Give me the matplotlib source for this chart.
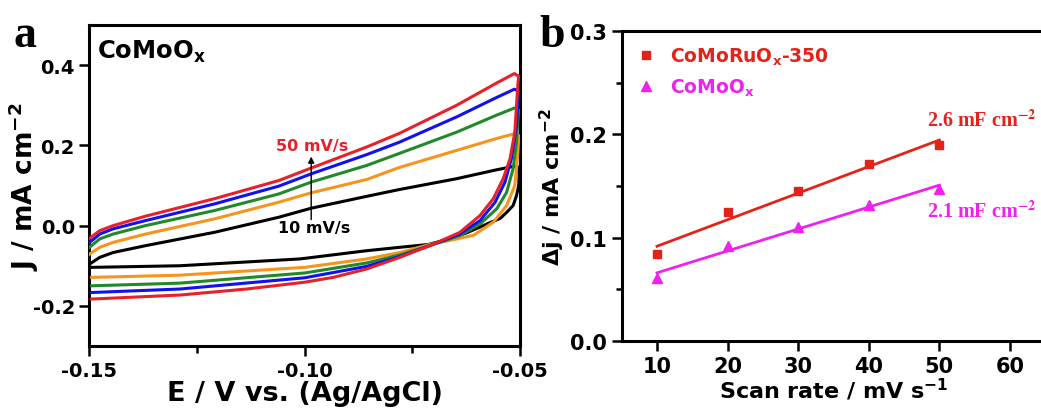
import matplotlib
matplotlib.use("Agg")
import matplotlib.pyplot as plt
import numpy as np
from matplotlib.lines import Line2D
from matplotlib.ticker import MultipleLocator

plt.rcParams['font.family'] = ['DejaVu Sans']
plt.rcParams['font.weight'] = 'bold'
plt.rcParams['axes.unicode_minus'] = False
plt.rcParams['mathtext.fontset'] = 'custom'
plt.rcParams['mathtext.rm'] = 'DejaVu Sans:bold'
plt.rcParams['mathtext.bf'] = 'DejaVu Sans:bold'

# ---------------- Panel a data (CV curves of CoMoOx) ----------------
E_fwd = [-0.150, -0.1476, -0.1445, -0.137, -0.121, -0.106, -0.0985, -0.0856, -0.078, -0.0647, -0.0555, -0.0513]

J50_fwd = [-0.0315, -0.0125, 0.0, 0.0235, 0.067, 0.1125, 0.1435, 0.196, 0.23, 0.30, 0.355, 0.379]
E50_rev = [-0.0503, -0.0505, -0.0507, -0.0512, -0.0523, -0.0539, -0.0562, -0.0593, -0.064, -0.0705, -0.0779, -0.0856, -0.0934, -0.1000, -0.1135, -0.129, -0.1495]
J50_rev = [0.372, 0.35, 0.317, 0.233, 0.167, 0.117, 0.067, 0.025, -0.017, -0.048, -0.079, -0.108, -0.129, -0.141, -0.158, -0.173, -0.183]

J40_fwd = [-0.042, -0.021, -0.008, 0.0125, 0.054, 0.0985, 0.129, 0.177, 0.208, 0.271, 0.319, 0.340]
E40_rev = [-0.0503, -0.0505, -0.0508, -0.052, -0.0535, -0.0558, -0.0593, -0.064, -0.0705, -0.0779, -0.0856, -0.100, -0.129, -0.1495]
J40_rev = [0.335, 0.31, 0.25, 0.167, 0.108, 0.058, 0.0125, -0.021, -0.048, -0.077, -0.1015, -0.130, -0.158, -0.1667]

J30_fwd = [-0.054, -0.033, -0.021, 0.0, 0.0375, 0.079, 0.1085, 0.15, 0.18, 0.233, 0.275, 0.293]
E30_rev = [-0.0503, -0.0505, -0.0508, -0.0516, -0.0531, -0.0554, -0.0593, -0.064, -0.0705, -0.0779, -0.0856, -0.100, -0.129, -0.1495]
J30_rev = [0.288, 0.26, 0.2085, 0.142, 0.083, 0.042, 0.004, -0.025, -0.048, -0.073, -0.093, -0.118, -0.1433, -0.150]

J20_fwd = [-0.071, -0.054, -0.0417, -0.021, 0.0167, 0.0585, 0.0818, 0.115, 0.145, 0.1875, 0.217, 0.229]
E20_rev = [-0.0503, -0.0504, -0.0506, -0.0512, -0.0531, -0.0562, -0.0608, -0.0663, -0.0710, -0.0779, -0.0856, -0.100, -0.129, -0.1495]
J20_rev = [0.225, 0.2, 0.167, 0.1, 0.05, 0.0085, -0.024, -0.037, -0.047, -0.067, -0.083, -0.104, -0.1235, -0.129]

J10_fwd = [-0.096, -0.079, -0.067, -0.05, -0.0167, 0.021, 0.0434, 0.073, 0.09, 0.117, 0.139, 0.148]
E10_rev = [-0.0503, -0.0502, -0.0503, -0.0508, -0.0516, -0.0531, -0.0546, -0.0577, -0.0624, -0.0663, -0.0713, -0.0779, -0.0856, -0.1011, -0.129, -0.1495]
J10_rev = [0.146, 0.125, 0.1, 0.075, 0.05, 0.033, 0.018, 0.004, -0.018, -0.033, -0.047, -0.054, -0.0625, -0.083, -0.100, -0.104]

cv_colors = {10: '#000000', 20: '#f7941d', 30: '#22892a', 40: '#1010f0', 50: '#e8202a'}

# ---------------- Panel b data ----------------
scan_rate = [10, 20, 30, 40, 50]
dj_CoMoRuOx = [0.0845, 0.125, 0.145, 0.171, 0.190]
dj_CoMoOx = [0.061, 0.092, 0.110, 0.132, 0.147]
red_b = '#e2231a'
mag_b = '#ee22ee'

fig = plt.figure(figsize=(10.41, 4.10), dpi=100)

# ---------------- Panel a ----------------
axa = fig.add_axes([0.08597, 0.15366, 0.41354, 0.78293])
curves = [
    (10, J10_fwd, E10_rev, J10_rev),
    (20, J20_fwd, E20_rev, J20_rev),
    (30, J30_fwd, E30_rev, J30_rev),
    (40, J40_fwd, E40_rev, J40_rev),
    (50, J50_fwd, E50_rev, J50_rev),
]
for rate, jf, er, jr in curves:
    E = list(E_fwd) + list(er)
    J = list(jf) + list(jr)
    axa.plot(E, J, color=cv_colors[rate], lw=2.2, solid_joinstyle='round', zorder=3 + rate / 10)

axa.set_xlim(-0.15, -0.05)
axa.set_ylim(-0.3, 0.5)
axa.set_xticks([-0.15, -0.10, -0.05])
axa.set_xticklabels(['-0.15', '-0.10', '-0.05'])
axa.xaxis.set_minor_locator(MultipleLocator(0.025))
axa.set_yticks([-0.2, 0.0, 0.2, 0.4])
axa.set_yticklabels(['-0.2', '0.0', '0.2', '0.4'])
axa.tick_params(axis='both', which='major', direction='out', length=7, width=1.8, labelsize=14)
axa.tick_params(axis='both', which='minor', direction='out', length=5, width=1.8)
for s in axa.spines.values():
    s.set_linewidth(2.2)
axa.set_xlabel('E / V vs. (Ag/AgCl)', fontsize=19.5, fontweight='bold', labelpad=0)
axa.set_ylabel(r'J / mA cm$^{\mathbf{-2}}$', fontsize=19, fontweight='bold')
axa.yaxis.set_label_coords(-0.112, 0.5)

axa.text(0.017, 0.897, r'CoMoO$_{\mathbf{x}}$', transform=axa.transAxes, fontsize=17.5,
         fontweight='bold', va='baseline', ha='left')
axa.annotate('', xy=(-0.0985, 0.172), xytext=(-0.0985, 0.015),
             arrowprops=dict(arrowstyle='-|>', color='black', lw=1.0, mutation_scale=9,
                             shrinkA=0, shrinkB=0), zorder=10)
axa.text(-0.0982, 0.200, '50 mV/s', color='#e8202a', fontsize=11.5, fontweight='bold',
         ha='center', va='center', zorder=11)
axa.text(-0.0978, -0.004, '10 mV/s', color='black', fontsize=11.5, fontweight='bold',
         ha='center', va='center', zorder=11)

# ---------------- Panel b ----------------
axb = fig.add_axes([0.59722, 0.16585, 0.40690, 0.75610])
fit_r = np.polyfit(scan_rate, dj_CoMoRuOx, 1)
fit_m = np.polyfit(scan_rate, dj_CoMoOx, 1)
xs = np.array([scan_rate[0], scan_rate[-1]])
axb.plot(xs, np.polyval(fit_r, xs), color=red_b, lw=2.0, zorder=2)
axb.plot(xs, np.polyval(fit_m, xs), color=mag_b, lw=2.0, zorder=2)
axb.plot(scan_rate, dj_CoMoRuOx, 's', color=red_b, ms=5.5, zorder=3, linestyle='none')
axb.plot(scan_rate, dj_CoMoOx, '^', color=mag_b, ms=6.5, zorder=3, linestyle='none')

axb.set_xlim(5, 65)
axb.set_ylim(0.0, 0.3)
axb.set_xticks([10, 20, 30, 40, 50, 60])
axb.set_yticks([0.0, 0.1, 0.2, 0.3])
axb.set_yticklabels(['0.0', '0.1', '0.2', '0.3'])
axb.yaxis.set_minor_locator(MultipleLocator(0.05))
axb.tick_params(axis='both', which='major', direction='out', length=7, width=1.8, labelsize=15)
axb.tick_params(axis='both', which='minor', direction='out', length=4, width=1.8)
for s in axb.spines.values():
    s.set_linewidth(2.2)
axb.set_xlabel(r'Scan rate / mV s$^{\mathbf{-1}}$', fontsize=16, fontweight='bold', labelpad=0)
axb.set_ylabel(r'Δj / mA cm$^{\mathbf{-2}}$', fontsize=16, fontweight='bold', labelpad=2)

handles = [Line2D([], [], marker='s', color=red_b, linestyle='none', ms=5.5),
           Line2D([], [], marker='^', color=mag_b, linestyle='none', ms=6.5)]
leg = axb.legend(handles, [r'CoMoRuO$_{\mathbf{x}}$-350', r'CoMoO$_{\mathbf{x}}$'],
                 loc='upper left', bbox_to_anchor=(0.0, 1.0), frameon=False,
                 fontsize=13.5, handlelength=1.0, handletextpad=0.8, labelspacing=0.5,
                 borderaxespad=0.4)
for t, c in zip(leg.get_texts(), [red_b, mag_b]):
    t.set_color(c)
    t.set_fontweight('bold')

axb.text(48.2, 0.2078, r'2.6 mF cm$^{\mathbf{-2}}$', color=red_b, fontsize=14.5,
         family='Liberation Serif', fontweight='bold', math_fontfamily='stix', va='baseline')
axb.text(48.2, 0.120, r'2.1 mF cm$^{\mathbf{-2}}$', color=mag_b, fontsize=14.5,
         family='Liberation Serif', fontweight='bold', math_fontfamily='stix', va='baseline')

# panel letters
fig.text(0.013, 0.885, 'a', fontsize=33, fontweight='bold', family='Liberation Serif', va='baseline')
fig.text(0.518, 0.885, 'b', fontsize=33, fontweight='bold', family='Liberation Serif', va='baseline')

fig.savefig('out.png', dpi=100)
